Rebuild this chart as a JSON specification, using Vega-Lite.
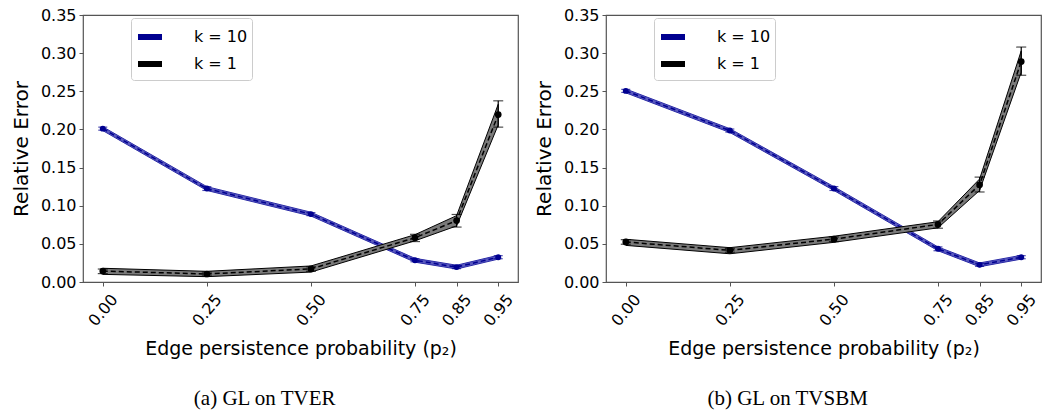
{
  "$schema": "https://vega.github.io/schema/vega-lite/v6.json",
  "padding": {"left": 10, "top": 6, "right": 0, "bottom": 0},
  "background": "white",
  "datasets": {
    "d": [
      {"s": "a", "k": "k = 10", "p": 0.0, "y": 0.201, "lo": 0.199, "hi": 0.203, "blo": 0.1985, "bhi": 0.2035},
      {"s": "a", "k": "k = 10", "p": 0.25, "y": 0.1225, "lo": 0.120, "hi": 0.125, "blo": 0.120, "bhi": 0.125},
      {"s": "a", "k": "k = 10", "p": 0.5, "y": 0.089, "lo": 0.087, "hi": 0.091, "blo": 0.0865, "bhi": 0.0915},
      {"s": "a", "k": "k = 10", "p": 0.75, "y": 0.0285, "lo": 0.0265, "hi": 0.0305, "blo": 0.026, "bhi": 0.031},
      {"s": "a", "k": "k = 10", "p": 0.85, "y": 0.0195, "lo": 0.0175, "hi": 0.0215, "blo": 0.017, "bhi": 0.022},
      {"s": "a", "k": "k = 10", "p": 0.95, "y": 0.0325, "lo": 0.0305, "hi": 0.0345, "blo": 0.030, "bhi": 0.035},
      {"s": "a", "k": "k = 1", "p": 0.0, "y": 0.0143, "lo": 0.011, "hi": 0.017, "blo": 0.010, "bhi": 0.018},
      {"s": "a", "k": "k = 1", "p": 0.25, "y": 0.0105, "lo": 0.008, "hi": 0.013, "blo": 0.007, "bhi": 0.014},
      {"s": "a", "k": "k = 1", "p": 0.5, "y": 0.0172, "lo": 0.014, "hi": 0.020, "blo": 0.013, "bhi": 0.021},
      {"s": "a", "k": "k = 1", "p": 0.75, "y": 0.058, "lo": 0.053, "hi": 0.0625, "blo": 0.054, "bhi": 0.062},
      {"s": "a", "k": "k = 1", "p": 0.85, "y": 0.0805, "lo": 0.072, "hi": 0.0885, "blo": 0.0735, "bhi": 0.087},
      {"s": "a", "k": "k = 1", "p": 0.95, "y": 0.2195, "lo": 0.203, "hi": 0.2375, "blo": 0.206, "bhi": 0.233},
      {"s": "b", "k": "k = 10", "p": 0.0, "y": 0.2505, "lo": 0.2485, "hi": 0.2525, "blo": 0.248, "bhi": 0.253},
      {"s": "b", "k": "k = 10", "p": 0.25, "y": 0.1985, "lo": 0.1965, "hi": 0.2005, "blo": 0.196, "bhi": 0.201},
      {"s": "b", "k": "k = 10", "p": 0.5, "y": 0.1225, "lo": 0.120, "hi": 0.125, "blo": 0.120, "bhi": 0.125},
      {"s": "b", "k": "k = 10", "p": 0.75, "y": 0.0435, "lo": 0.041, "hi": 0.046, "blo": 0.041, "bhi": 0.046},
      {"s": "b", "k": "k = 10", "p": 0.85, "y": 0.0225, "lo": 0.0205, "hi": 0.0245, "blo": 0.020, "bhi": 0.025},
      {"s": "b", "k": "k = 10", "p": 0.95, "y": 0.0325, "lo": 0.0305, "hi": 0.0345, "blo": 0.030, "bhi": 0.035},
      {"s": "b", "k": "k = 1", "p": 0.0, "y": 0.0525, "lo": 0.0495, "hi": 0.0555, "blo": 0.048, "bhi": 0.056},
      {"s": "b", "k": "k = 1", "p": 0.25, "y": 0.0415, "lo": 0.039, "hi": 0.044, "blo": 0.037, "bhi": 0.045},
      {"s": "b", "k": "k = 1", "p": 0.5, "y": 0.0562, "lo": 0.053, "hi": 0.059, "blo": 0.052, "bhi": 0.060},
      {"s": "b", "k": "k = 1", "p": 0.75, "y": 0.0755, "lo": 0.0705, "hi": 0.080, "blo": 0.071, "bhi": 0.079},
      {"s": "b", "k": "k = 1", "p": 0.85, "y": 0.1275, "lo": 0.118, "hi": 0.1375, "blo": 0.120, "bhi": 0.135},
      {"s": "b", "k": "k = 1", "p": 0.95, "y": 0.289, "lo": 0.271, "hi": 0.308, "blo": 0.275, "bhi": 0.303}
    ]
  },
  "data": {"name": "d"},
  "spacing": 14,
  "resolve": {"legend": {"color": "independent"}},
  "hconcat": [
    {
      "width": 435,
      "height": 267,
      "title": {"text": "(a) GL on TVER"},
      "transform": [{"filter": "datum.s === 'a'"}],
      "encoding": {
        "x": {"field": "p", "type": "quantitative", "title": "Edge persistence probability (p₂)", "scale": {"domain": [-0.0475, 0.9975], "nice": false, "zero": false},
          "axis": {"values": [0, 0.25, 0.5, 0.75, 0.85, 0.95], "format": ".2f"}}
      },
      "layer": [
        {"transform": [{"filter": "datum.k === 'k = 10'"}], "mark": {"type": "area", "fill": "#4848b8", "fillOpacity": 0.9, "stroke": "#2a2aa6", "strokeWidth": 1},
         "encoding": {"y": {"field": "blo", "type": "quantitative", "title": "Relative Error", "scale": {"domain": [0, 0.35], "nice": false}, "axis": {"values": [0, 0.05, 0.1, 0.15, 0.2, 0.25, 0.3, 0.35], "format": ".2f"}}, "y2": {"field": "bhi"}}},
        {"transform": [{"filter": "datum.k === 'k = 10'"}], "mark": {"type": "errorbar", "color": "#000090", "ticks": {"size": 9, "thickness": 1.2}, "thickness": 1.2},
         "encoding": {"y": {"field": "lo", "type": "quantitative", "title": "Relative Error", "scale": {"domain": [0, 0.35], "nice": false}, "axis": {"values": [0, 0.05, 0.1, 0.15, 0.2, 0.25, 0.3, 0.35], "format": ".2f"}}, "y2": {"field": "hi"}}},
        {"transform": [{"filter": "datum.k === 'k = 10'"}], "mark": {"type": "line", "strokeDash": [5, 3], "strokeWidth": 1.5},
         "encoding": {"y": {"field": "y", "type": "quantitative", "title": "Relative Error", "scale": {"domain": [0, 0.35], "nice": false}, "axis": {"values": [0, 0.05, 0.1, 0.15, 0.2, 0.25, 0.3, 0.35], "format": ".2f"}},
           "color": {"field": "k", "type": "nominal", "scale": {"domain": ["k = 10", "k = 1"], "range": ["#000090", "#000000"]},
             "legend": {"orient": "none", "legendX": 48, "legendY": 3, "title": null, "symbolType": "stroke", "symbolSize": 576, "symbolStrokeWidth": 6, "symbolDash": [1, 0], "labelFontSize": 16, "labelOffset": 29, "padding": 4, "rowPadding": -7, "strokeColor": "#cccccc", "fillColor": "white", "cornerRadius": 3}}}},
        {"transform": [{"filter": "datum.k === 'k = 10'"}], "mark": {"type": "point", "filled": true, "opacity": 1, "color": "#000090", "size": 35},
         "encoding": {"y": {"field": "y", "type": "quantitative", "title": "Relative Error", "scale": {"domain": [0, 0.35], "nice": false}, "axis": {"values": [0, 0.05, 0.1, 0.15, 0.2, 0.25, 0.3, 0.35], "format": ".2f"}}}},
        {"transform": [{"filter": "datum.k === 'k = 1'"}], "mark": {"type": "area", "fill": "#7a7a7a", "fillOpacity": 1, "stroke": "#000000", "strokeWidth": 1},
         "encoding": {"y": {"field": "blo", "type": "quantitative", "title": "Relative Error", "scale": {"domain": [0, 0.35], "nice": false}, "axis": {"values": [0, 0.05, 0.1, 0.15, 0.2, 0.25, 0.3, 0.35], "format": ".2f"}}, "y2": {"field": "bhi"}}},
        {"transform": [{"filter": "datum.k === 'k = 1'"}], "mark": {"type": "errorbar", "color": "#000000", "ticks": {"size": 10, "thickness": 1.2}, "thickness": 1.2},
         "encoding": {"y": {"field": "lo", "type": "quantitative", "title": "Relative Error", "scale": {"domain": [0, 0.35], "nice": false}, "axis": {"values": [0, 0.05, 0.1, 0.15, 0.2, 0.25, 0.3, 0.35], "format": ".2f"}}, "y2": {"field": "hi"}}},
        {"transform": [{"filter": "datum.k === 'k = 1'"}], "mark": {"type": "line", "strokeDash": [5, 3], "strokeWidth": 1.5},
         "encoding": {"y": {"field": "y", "type": "quantitative", "title": "Relative Error", "scale": {"domain": [0, 0.35], "nice": false}, "axis": {"values": [0, 0.05, 0.1, 0.15, 0.2, 0.25, 0.3, 0.35], "format": ".2f"}},
           "color": {"field": "k", "type": "nominal", "scale": {"domain": ["k = 10", "k = 1"], "range": ["#000090", "#000000"]}}}},
        {"transform": [{"filter": "datum.k === 'k = 1'"}], "mark": {"type": "point", "filled": true, "opacity": 1, "color": "#000000", "size": 45},
         "encoding": {"y": {"field": "y", "type": "quantitative", "title": "Relative Error", "scale": {"domain": [0, 0.35], "nice": false}, "axis": {"values": [0, 0.05, 0.1, 0.15, 0.2, 0.25, 0.3, 0.35], "format": ".2f"}}}}
      ]
    },
    {
      "width": 435,
      "height": 267,
      "title": {"text": "(b) GL on TVSBM"},
      "transform": [{"filter": "datum.s === 'b'"}],
      "encoding": {
        "x": {"field": "p", "type": "quantitative", "title": "Edge persistence probability (p₂)", "scale": {"domain": [-0.0475, 0.9975], "nice": false, "zero": false},
          "axis": {"values": [0, 0.25, 0.5, 0.75, 0.85, 0.95], "format": ".2f"}}
      },
      "layer": [
        {"transform": [{"filter": "datum.k === 'k = 10'"}], "mark": {"type": "area", "fill": "#4848b8", "fillOpacity": 0.9, "stroke": "#2a2aa6", "strokeWidth": 1},
         "encoding": {"y": {"field": "blo", "type": "quantitative", "title": "Relative Error", "scale": {"domain": [0, 0.35], "nice": false}, "axis": {"values": [0, 0.05, 0.1, 0.15, 0.2, 0.25, 0.3, 0.35], "format": ".2f"}}, "y2": {"field": "bhi"}}},
        {"transform": [{"filter": "datum.k === 'k = 10'"}], "mark": {"type": "errorbar", "color": "#000090", "ticks": {"size": 9, "thickness": 1.2}, "thickness": 1.2},
         "encoding": {"y": {"field": "lo", "type": "quantitative", "title": "Relative Error", "scale": {"domain": [0, 0.35], "nice": false}, "axis": {"values": [0, 0.05, 0.1, 0.15, 0.2, 0.25, 0.3, 0.35], "format": ".2f"}}, "y2": {"field": "hi"}}},
        {"transform": [{"filter": "datum.k === 'k = 10'"}], "mark": {"type": "line", "strokeDash": [5, 3], "strokeWidth": 1.5},
         "encoding": {"y": {"field": "y", "type": "quantitative", "title": "Relative Error", "scale": {"domain": [0, 0.35], "nice": false}, "axis": {"values": [0, 0.05, 0.1, 0.15, 0.2, 0.25, 0.3, 0.35], "format": ".2f"}},
           "color": {"field": "k", "type": "nominal", "scale": {"domain": ["k = 10", "k = 1"], "range": ["#000090", "#000000"]},
             "legend": {"orient": "none", "legendX": 48, "legendY": 3, "title": null, "symbolType": "stroke", "symbolSize": 576, "symbolStrokeWidth": 6, "symbolDash": [1, 0], "labelFontSize": 16, "labelOffset": 29, "padding": 4, "rowPadding": -7, "strokeColor": "#cccccc", "fillColor": "white", "cornerRadius": 3}}}},
        {"transform": [{"filter": "datum.k === 'k = 10'"}], "mark": {"type": "point", "filled": true, "opacity": 1, "color": "#000090", "size": 35},
         "encoding": {"y": {"field": "y", "type": "quantitative", "title": "Relative Error", "scale": {"domain": [0, 0.35], "nice": false}, "axis": {"values": [0, 0.05, 0.1, 0.15, 0.2, 0.25, 0.3, 0.35], "format": ".2f"}}}},
        {"transform": [{"filter": "datum.k === 'k = 1'"}], "mark": {"type": "area", "fill": "#7a7a7a", "fillOpacity": 1, "stroke": "#000000", "strokeWidth": 1},
         "encoding": {"y": {"field": "blo", "type": "quantitative", "title": "Relative Error", "scale": {"domain": [0, 0.35], "nice": false}, "axis": {"values": [0, 0.05, 0.1, 0.15, 0.2, 0.25, 0.3, 0.35], "format": ".2f"}}, "y2": {"field": "bhi"}}},
        {"transform": [{"filter": "datum.k === 'k = 1'"}], "mark": {"type": "errorbar", "color": "#000000", "ticks": {"size": 10, "thickness": 1.2}, "thickness": 1.2},
         "encoding": {"y": {"field": "lo", "type": "quantitative", "title": "Relative Error", "scale": {"domain": [0, 0.35], "nice": false}, "axis": {"values": [0, 0.05, 0.1, 0.15, 0.2, 0.25, 0.3, 0.35], "format": ".2f"}}, "y2": {"field": "hi"}}},
        {"transform": [{"filter": "datum.k === 'k = 1'"}], "mark": {"type": "line", "strokeDash": [5, 3], "strokeWidth": 1.5},
         "encoding": {"y": {"field": "y", "type": "quantitative", "title": "Relative Error", "scale": {"domain": [0, 0.35], "nice": false}, "axis": {"values": [0, 0.05, 0.1, 0.15, 0.2, 0.25, 0.3, 0.35], "format": ".2f"}},
           "color": {"field": "k", "type": "nominal", "scale": {"domain": ["k = 10", "k = 1"], "range": ["#000090", "#000000"]}}}},
        {"transform": [{"filter": "datum.k === 'k = 1'"}], "mark": {"type": "point", "filled": true, "opacity": 1, "color": "#000000", "size": 45},
         "encoding": {"y": {"field": "y", "type": "quantitative", "title": "Relative Error", "scale": {"domain": [0, 0.35], "nice": false}, "axis": {"values": [0, 0.05, 0.1, 0.15, 0.2, 0.25, 0.3, 0.35], "format": ".2f"}}}}
      ]
    }
  ],
  "config": {
    "font": "DejaVu Sans",
    "view": {"stroke": "#555555", "strokeWidth": 1.2},
    "axis": {"grid": false, "domain": false, "tickColor": "#555555", "tickSize": 4, "labelColor": "#000000", "titleColor": "#000000", "titleFontWeight": "normal", "labelFontSize": 16, "labelFont": "DejaVu Sans", "titleFont": "DejaVu Sans"},
    "axisX": {"labelAngle": -50, "labelAlign": "center", "labelBaseline": "middle", "labelPadding": 24, "titleFontSize": 19, "titlePadding": 11, "labelFlush": false, "labelOverlap": false},
    "axisY": {"labelPadding": 3, "titleFontSize": 20, "titlePadding": 9, "labelOverlap": false},
    "title": {"orient": "bottom", "anchor": "middle", "frame": "bounds", "font": "Liberation Serif", "fontSize": 21, "fontWeight": "normal", "color": "#000000", "offset": 29},
    "legend": {"labelColor": "#000000"}
  }
}
